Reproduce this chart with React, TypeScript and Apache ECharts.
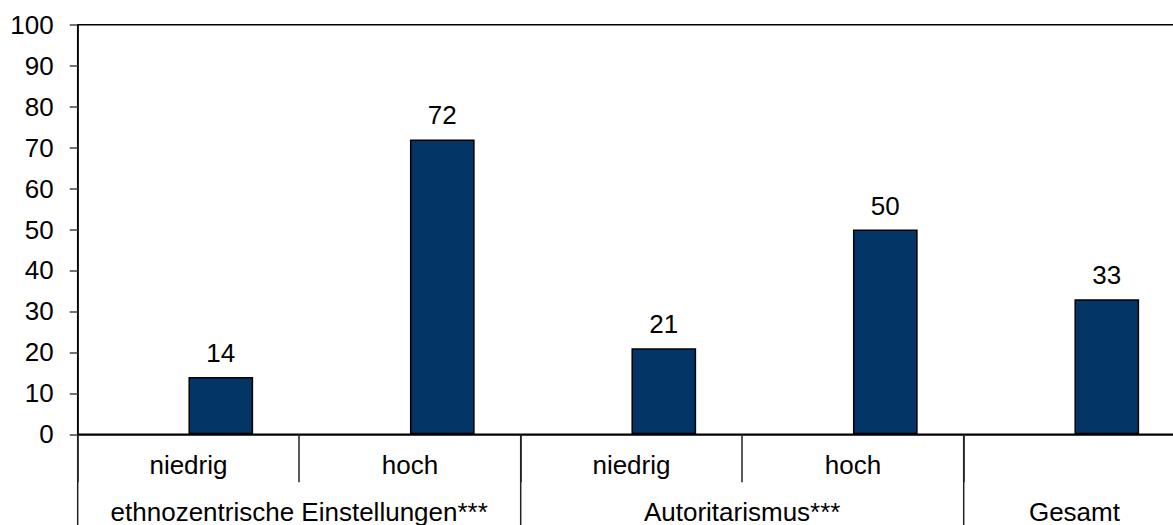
import React, { useEffect, useRef } from "react";
import * as echarts from "echarts";

const categories = ["niedrig", "hoch", "niedrig", "hoch", ""];
const values = [14, 72, 21, 50, 33];
const groups = [
  { name: "ethnozentrische Einstellungen***", start: 0, end: 1 },
  { name: "Autoritarismus***", start: 2, end: 3 },
  { name: "Gesamt", start: 4, end: 4 },
];
const yTicks = { min: 0, max: 100, interval: 10 };

const FONT = "Liberation Sans, Arial, Helvetica, sans-serif";
const FS = 26;
const CHART_W = 1200;
const CHART_H = 525;

export default function App() {
  const ref = useRef<HTMLDivElement>(null);
  useEffect(() => {
    if (!ref.current) return;
    const chart = echarts.init(ref.current, null, { renderer: "svg" });
    const option: any = {
      animation: false,
      backgroundColor: "#ffffff",
      grid: {
        left: 77.7,
        top: 24.7,
        width: 1107.5,
        height: 409.6,
        show: true,
        borderColor: "#000",
        borderWidth: 1.5,
        backgroundColor: "transparent",
      },
      xAxis: {
        type: "category",
        data: categories,
        axisLine: { show: true, lineStyle: { color: "#000", width: 1.5 } },
        axisTick: {
          show: true,
          interval: 0,
          length: 48,
          lineStyle: { color: "#222", width: 1.5 },
        },
        axisLabel: {
          interval: 0,
          margin: 18,
          color: "#000",
          fontFamily: FONT,
          fontSize: FS,
        },
        splitLine: { show: false },
      },
      yAxis: {
        type: "value",
        min: yTicks.min,
        max: yTicks.max,
        interval: yTicks.interval,
        axisLine: { show: true, lineStyle: { color: "#000", width: 1.5 } },
        axisTick: { show: true, length: 8, lineStyle: { color: "#444", width: 1.5 } },
        axisLabel: {
          margin: 24,
          color: "#000",
          fontFamily: FONT,
          fontSize: FS,
        },
        splitLine: { show: false },
      },
      series: [
        {
          type: "bar",
          data: values.map(() => null),
          barWidth: 64.7,
          barGap: "0%",
        },
        {
          type: "bar",
          data: values,
          barWidth: 64.7,
          barGap: "0%",
          itemStyle: { color: "#033566", borderColor: "#000", borderWidth: 1.5 },
          label: {
            show: true,
            position: "top",
            distance: 11,
            color: "#000",
            fontFamily: FONT,
            fontSize: FS,
          },
        },
      ],
    };
    chart.setOption(option);

    const px = (i: number) => chart.convertToPixel({ xAxisIndex: 0 }, i) as number;
    const y0 = chart.convertToPixel({ yAxisIndex: 0 }, 0) as number;
    const bw = px(1) - px(0);
    const graphics: any[] = [];
    groups.forEach((g) => {
      const left = px(g.start) - bw / 2;
      const center = (px(g.start) + px(g.end)) / 2;
      graphics.push({
        type: "line",
        shape: { x1: left, y1: y0, x2: left, y2: CHART_H },
        style: { stroke: "#222", lineWidth: 1.5 },
      });
      graphics.push({
        type: "text",
        x: center,
        y: 512,
        style: {
          text: g.name,
          fill: "#000",
          font: `${FS}px ${FONT}`,
          align: "center",
          verticalAlign: "middle",
        },
      });
    });
    chart.setOption({ graphic: graphics });

    return () => chart.dispose();
  }, []);
  return (
    <div
      style={{
        position: "absolute",
        left: 0,
        top: 0,
        width: 1173,
        height: CHART_H,
        overflow: "hidden",
      }}
    >
      <div ref={ref} style={{ width: CHART_W, height: CHART_H }} />
    </div>
  );
}
